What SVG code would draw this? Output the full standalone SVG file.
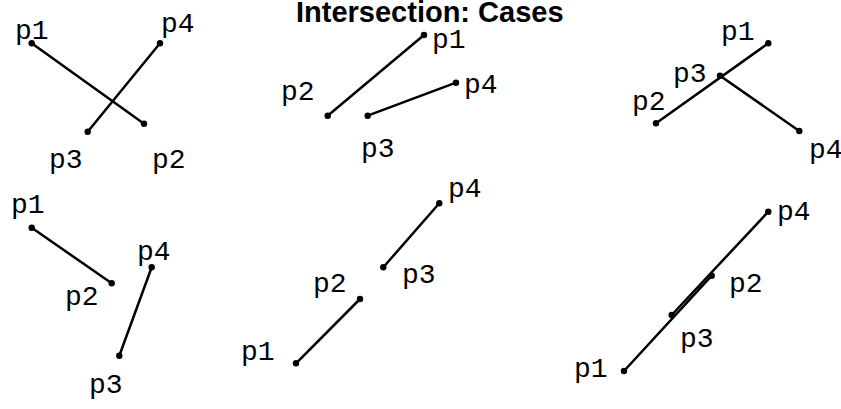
<svg xmlns="http://www.w3.org/2000/svg" width="841" height="409" viewBox="0 0 841 409">
<style>
.lbl{font-family:"Liberation Mono","Courier New",monospace;font-size:28px;fill:#000}
.seg{stroke:#000;stroke-width:2.5;stroke-linecap:round;fill:none}
.dot{fill:#000}
.title{font-family:"Liberation Sans",Arial,sans-serif;font-weight:bold;font-size:29px;fill:#000}
</style>
<rect width="841" height="409" fill="#fff"/>
<text class="title" x="296" y="22">Intersection: Cases</text>
<g id="connectors">
<line class="seg" x1="31.7" y1="43.3" x2="144" y2="123.7"/>
<line class="seg" x1="87.7" y1="131.7" x2="160" y2="43.3"/>
<line class="seg" x1="424" y1="35" x2="327.7" y2="115.7"/>
<line class="seg" x1="367.7" y1="115.7" x2="456" y2="82.7"/>
<line class="seg" x1="656" y1="123.3" x2="768.3" y2="43.3"/>
<line class="seg" x1="720" y1="75.7" x2="799.3" y2="131"/>
<line class="seg" x1="31.7" y1="227.7" x2="111.7" y2="283.3"/>
<line class="seg" x1="119.3" y1="355.7" x2="151.7" y2="267.3"/>
<line class="seg" x1="296" y1="363.3" x2="360" y2="299"/>
<line class="seg" x1="383.3" y1="267.3" x2="439.3" y2="203.3"/>
<line class="seg" x1="624" y1="371" x2="711.7" y2="275.7"/>
<line class="seg" x1="671.7" y1="315" x2="768.3" y2="211.7"/>
</g>
<g id="case1">
<circle class="dot" cx="31.7" cy="43.3" r="3.2"/><text class="lbl" x="15" y="39">p1</text>
<circle class="dot" cx="144" cy="123.7" r="3.2"/><text class="lbl" x="152" y="168">p2</text>
<circle class="dot" cx="87.7" cy="131.7" r="3.2"/><text class="lbl" x="49" y="168">p3</text>
<circle class="dot" cx="160" cy="43.3" r="3.2"/><text class="lbl" x="161" y="31.7">p4</text>
</g>
<g id="case2">
<circle class="dot" cx="424" cy="35" r="3.2"/><text class="lbl" x="432" y="48.3">p1</text>
<circle class="dot" cx="327.7" cy="115.7" r="3.2"/><text class="lbl" x="281" y="100">p2</text>
<circle class="dot" cx="367.7" cy="115.7" r="3.2"/><text class="lbl" x="361" y="156.7">p3</text>
<circle class="dot" cx="456" cy="82.7" r="3.2"/><text class="lbl" x="464" y="92.7">p4</text>
</g>
<g id="case3">
<circle class="dot" cx="768.3" cy="43.3" r="3.2"/><text class="lbl" x="721" y="40">p1</text>
<circle class="dot" cx="656" cy="123.3" r="3.2"/><text class="lbl" x="632" y="110">p2</text>
<circle class="dot" cx="720" cy="75.7" r="3.2"/><text class="lbl" x="673" y="81.7">p3</text>
<circle class="dot" cx="799.3" cy="131" r="3.2"/><text class="lbl" x="809" y="158.3">p4</text>
</g>
<g id="case4">
<circle class="dot" cx="31.7" cy="227.7" r="3.2"/><text class="lbl" x="11" y="213.3">p1</text>
<circle class="dot" cx="111.7" cy="283.3" r="3.2"/><text class="lbl" x="65" y="305">p2</text>
<circle class="dot" cx="119.3" cy="355.7" r="3.2"/><text class="lbl" x="89" y="393.3">p3</text>
<circle class="dot" cx="151.7" cy="267.3" r="3.2"/><text class="lbl" x="137" y="260">p4</text>
</g>
<g id="case5">
<circle class="dot" cx="296" cy="363.3" r="3.2"/><text class="lbl" x="241" y="360">p1</text>
<circle class="dot" cx="360" cy="299" r="3.2"/><text class="lbl" x="313" y="291.7">p2</text>
<circle class="dot" cx="383.3" cy="267.3" r="3.2"/><text class="lbl" x="402" y="283.3">p3</text>
<circle class="dot" cx="439.3" cy="203.3" r="3.2"/><text class="lbl" x="448" y="196.7">p4</text>
</g>
<g id="case6">
<circle class="dot" cx="624" cy="371" r="3.2"/><text class="lbl" x="574" y="376.7">p1</text>
<circle class="dot" cx="711.7" cy="275.7" r="3.2"/><text class="lbl" x="729" y="291.7">p2</text>
<circle class="dot" cx="671.7" cy="315" r="3.2"/><text class="lbl" x="680" y="346.7">p3</text>
<circle class="dot" cx="768.3" cy="211.7" r="3.2"/><text class="lbl" x="777" y="220">p4</text>
</g>
</svg>
